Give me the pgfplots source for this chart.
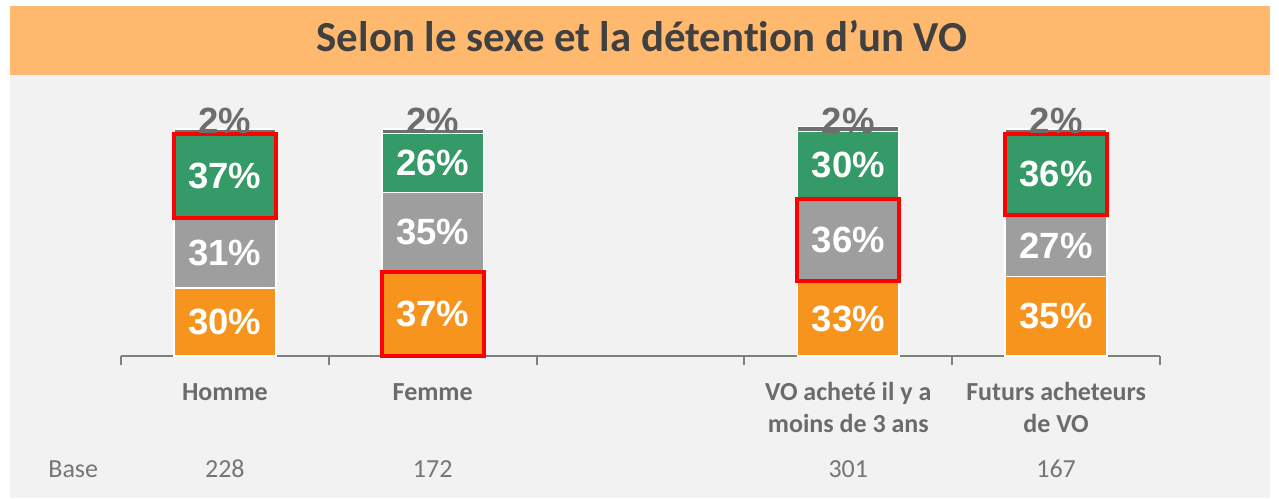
\documentclass[border=0pt]{standalone}
\usepackage{pgfplots}
\pgfplotsset{compat=1.18}
\usepackage{fontspec}
\setmainfont{Carlito}
\newfontfamily\calibri[Ligatures=NoCommon]{Carlito}
\newfontfamily\arial{Liberation Sans}
\definecolor{banner}{HTML}{FFB96F}
\definecolor{panel}{HTML}{F2F2F2}
\definecolor{cOrange}{HTML}{F7941E}
\definecolor{cGrey}{HTML}{9E9E9E}
\definecolor{cGreen}{HTML}{349A67}
\definecolor{cTop}{HTML}{707070}
\definecolor{axisgrey}{HTML}{7F7F7F}
\definecolor{titlegrey}{HTML}{404040}
\definecolor{labgrey}{HTML}{6B6B6B}
\definecolor{basegrey}{HTML}{767676}
\definecolor{pct}{HTML}{6D6D6D}
\pgfplotsset{common/.style={
  at={(60.5pt,71pt)}, anchor=south west,
  scale only axis, width=519.5pt, height=113.5pt,
  xmin=-0.5, xmax=4.5, ymin=0, ymax=100, clip=false}}
\begin{document}
\begin{tikzpicture}
\useasboundingbox (0,0) rectangle (639.5pt,249pt);
\fill[white] (0,0) rectangle (639.5pt,249pt);
\fill[panel] (5pt,0) rectangle (635pt,211.5pt);
\fill[banner] (5pt,211.5pt) rectangle (635pt,246pt);
\node[anchor=base, font=\calibri\bfseries\fontsize{21.4}{25}\selectfont, text=titlegrey, inner sep=0pt] at (321pt,223pt) {Selon le sexe et la détention d’un VO};
\node[anchor=base west, font=\calibri\fontsize{13}{16}\selectfont, text=basegrey, inner sep=0pt] at (24pt,10.5pt) {Base};
\begin{axis}[common,
  axis x line*=bottom, axis y line=none,
  x axis line style={draw=axisgrey, line width=1pt},
  xtick={-0.5,0.5,1.5,2.5,3.5,4.5}, xticklabels={},
  xtick style={draw=axisgrey, line width=1pt},
  major tick length=4.5pt, tick align=outside,
  ybar stacked, bar width=0.49,
  every axis plot/.append style={draw=white, line width=0.75pt},
]
\addplot[fill=cOrange] coordinates {(0,30) (1,37) (3,33) (4,35)};
\addplot[fill=cGrey] coordinates {(0,31) (1,35) (3,36) (4,27)};
\addplot[fill=cGreen] coordinates {(0,37) (1,26) (3,30) (4,36)};
\addplot[fill=cTop] coordinates {(0,2) (1,2) (3,2) (4,2)};
\end{axis}
\begin{axis}[common, hide axis]
% highlight boxes
\draw[red, line width=2pt] (axis cs:-0.245,61) rectangle (axis cs:0.245,98);
\draw[red, line width=2pt] (axis cs:0.755,0) rectangle (axis cs:1.245,37);
\draw[red, line width=2pt] (axis cs:2.755,33) rectangle (axis cs:3.245,69);
\draw[red, line width=2pt] (axis cs:3.755,62) rectangle (axis cs:4.245,98);
% value labels
\tikzset{vl/.style={font=\arial\bfseries\fontsize{18.25}{20}\selectfont, text=white, inner sep=0pt},
         tl/.style={font=\arial\bfseries\fontsize{18.25}{20}\selectfont, text=pct, inner sep=0pt}}
\node[vl] at (axis cs:0,15) {30\%};
\node[vl] at (axis cs:0,45.5) {31\%};
\node[vl] at (axis cs:0,79.5) {37\%};
\node[tl] at (axis cs:0,103.5) {2\%};
\node[vl] at (axis cs:1,18.5) {37\%};
\node[vl] at (axis cs:1,54.5) {35\%};
\node[vl] at (axis cs:1,85) {26\%};
\node[tl] at (axis cs:1,103.5) {2\%};
\node[vl] at (axis cs:3,16.5) {33\%};
\node[vl] at (axis cs:3,51) {36\%};
\node[vl] at (axis cs:3,84) {30\%};
\node[tl] at (axis cs:3,103.5) {2\%};
\node[vl] at (axis cs:4,17.5) {35\%};
\node[vl] at (axis cs:4,48.5) {27\%};
\node[vl] at (axis cs:4,80) {36\%};
\node[tl] at (axis cs:4,103.5) {2\%};
% category labels
\tikzset{cl/.style={anchor=base, font=\calibri\bfseries\fontsize{13}{16}\selectfont, text=labgrey, inner sep=0pt},
         bl/.style={anchor=base, font=\calibri\fontsize{13}{16}\selectfont, text=basegrey, inner sep=0pt}}
\node[cl, yshift=-22pt] at (axis cs:0,0) {Homme};
\node[cl, yshift=-22pt] at (axis cs:1,0) {Femme};
\node[cl, yshift=-22pt] at (axis cs:3,0) {VO acheté il y a};
\node[cl, yshift=-38pt] at (axis cs:3,0) {moins de 3 ans};
\node[cl, yshift=-22pt] at (axis cs:4,0) {Futurs acheteurs};
\node[cl, yshift=-38pt] at (axis cs:4,0) {de VO};
\node[bl, yshift=-60.5pt] at (axis cs:0,0) {228};
\node[bl, yshift=-60.5pt] at (axis cs:1,0) {172};
\node[bl, yshift=-60.5pt] at (axis cs:3,0) {301};
\node[bl, yshift=-60.5pt] at (axis cs:4,0) {167};
\end{axis}
\end{tikzpicture}
\end{document}
